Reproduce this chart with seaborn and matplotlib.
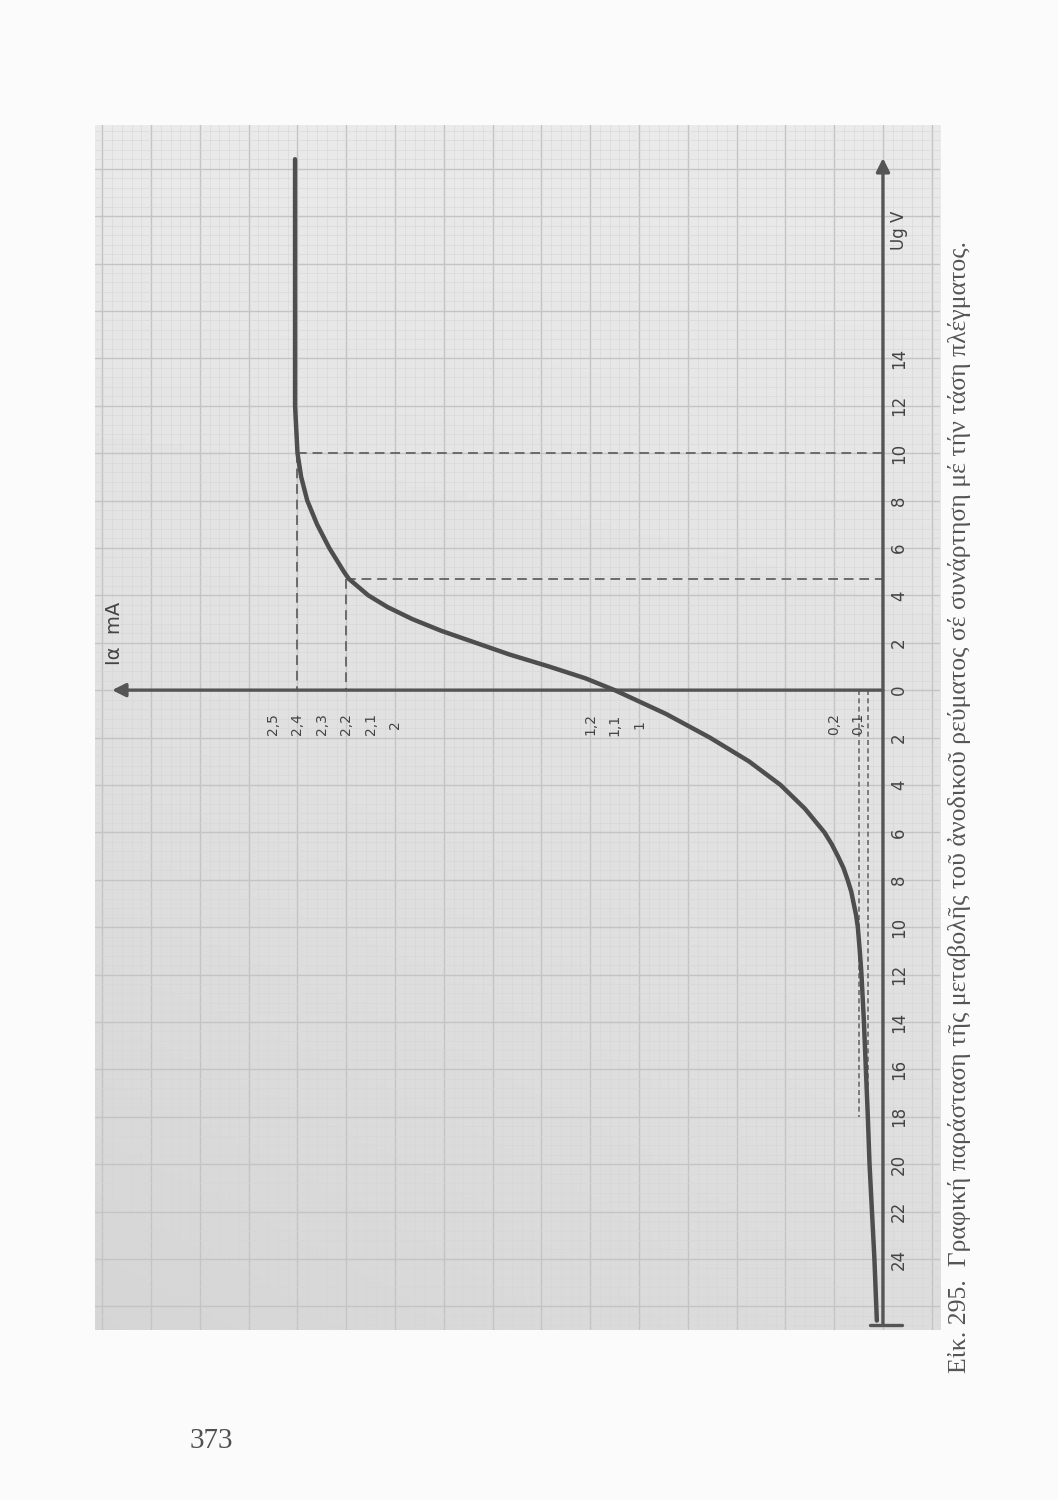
import numpy as np
import pandas as pd
import matplotlib
matplotlib.use("Agg")
import matplotlib.pyplot as plt
import seaborn as sns
from matplotlib.ticker import MultipleLocator

# grid voltage (V) and anode current (mA)
ug_values = [-26.6, -24, -22, -20, -18, -16, -14, -12, -11, -10, -9.5, -9, -8.5, -8,
             -7.5, -7, -6.5, -6, -5, -4, -3, -2, -1, 0, 0.5, 1, 1.5, 2, 2.5, 3,
             3.5, 4, 4.7, 5, 6, 7, 8, 9, 10, 12, 16, 22.4]
ia_values = [0.025, 0.035, 0.045, 0.055, 0.062, 0.07, 0.078, 0.088, 0.095, 0.103,
             0.11, 0.12, 0.13, 0.145, 0.162, 0.185, 0.21, 0.24, 0.32, 0.42, 0.55,
             0.71, 0.89, 1.10, 1.22, 1.37, 1.53, 1.67, 1.81, 1.93, 2.03, 2.11,
             2.19, 2.21, 2.27, 2.32, 2.36, 2.385, 2.40, 2.41, 2.41, 2.41]

ug_ticks = [-24, -22, -20, -18, -16, -14, -12, -10, -8, -6, -4, -2, 0,
            2, 4, 6, 8, 10, 12, 14]
ug_tick_labels = [str(abs(v)) for v in ug_ticks]

ia_ticks = [2.5, 2.4, 2.3, 2.2, 2.1, 2.0, 1.2, 1.1, 1.0, 0.2, 0.1]
ia_tick_labels = ["2,5", "2,4", "2,3", "2,2", "2,1", "2", "1,2", "1,1", "1", "0,2", "0,1"]

# marked working points (Ug, Ia) and cut-off guide currents
marked_points = [(10, 2.4), (4.7, 2.2)]
cutoff_currents = [0.1, 0.06]
cutoff_ug = -18

caption = ("Εἰκ. 295.  Γραφική παράσταση τῆς μεταβολῆς τοῦ ἀνοδικοῦ ρεύματος "
           "σέ συνάρτηση μέ τήν τάση πλέγματος.")
page_number = "373"

df = pd.DataFrame({"Ug": ug_values, "Ia": ia_values})

sns.set_theme(style="white")
plt.rcParams["font.family"] = ["DejaVu Sans"]

ink = "#555555"
fig = plt.figure(figsize=(10.58, 15), dpi=100)
fig.patch.set_facecolor("#fbfbfb")
ax = fig.add_axes([0.0898, 0.1133, 0.7987, 0.8033])

xlim = (3.23, -0.234)
ylim = (-27.0, 23.84)

# scanned graph-paper tone
yy, xx = np.mgrid[0:1:200j, 0:1:200j]
tone = 0.915 - 0.05 * yy - 0.03 * (1 - xx) * yy
ax.imshow(tone, extent=(xlim[0], xlim[1], ylim[0], ylim[1]), origin="upper",
          cmap="gray", vmin=0, vmax=1, aspect="auto", zorder=0)

ax.set_xlim(*xlim)
ax.set_ylim(*ylim)
ax.xaxis.set_major_locator(MultipleLocator(0.2))
ax.xaxis.set_minor_locator(MultipleLocator(0.04))
ax.yaxis.set_major_locator(MultipleLocator(2))
ax.yaxis.set_minor_locator(MultipleLocator(0.4))
ax.grid(which="major", color="#c4c4c4", lw=1.0, zorder=1)
ax.grid(which="minor", color="#d6d6d6", lw=0.4, zorder=1)
ax.tick_params(which="both", length=0, labelbottom=False, labelleft=False)
for s in ax.spines.values():
    s.set_visible(False)

# axes of the printed graph
ax.annotate("", xy=(3.16, 0), xytext=(0, 0),
            arrowprops=dict(arrowstyle="-|>", lw=2.4, color=ink, mutation_scale=20,
                            shrinkA=0, shrinkB=0), zorder=3)
ax.annotate("", xy=(0, 22.45), xytext=(0, -26.8),
            arrowprops=dict(arrowstyle="-|>", lw=2.4, color=ink, mutation_scale=20,
                            shrinkA=0, shrinkB=0), zorder=3)
ax.plot([0.053, -0.078], [-26.8, -26.8], color=ink, lw=2.4, zorder=3)

# dashed construction lines
for ug, ia in marked_points:
    ax.plot([ia, 0], [ug, ug], ls=(0, (5, 3)), color="#6a6a6a", lw=1.4, zorder=2)
    ax.plot([ia, ia], [ug, 0], ls=(0, (5, 3)), color="#6a6a6a", lw=1.4, zorder=2)
for ia in cutoff_currents:
    ax.plot([ia, ia], [0, cutoff_ug], ls=(0, (3, 2)), color="#6a6a6a", lw=1.2, zorder=2)

sns.lineplot(data=df, x="Ia", y="Ug", sort=False, estimator=None, color="#4e4e4e",
             lw=3.2, ax=ax, zorder=4)
ax.set_xlabel("")
ax.set_ylabel("")

for v, lab in zip(ug_ticks, ug_tick_labels):
    ax.text(-0.065, v, lab, rotation=90, ha="center", va="center",
            fontsize=12, color="#444444", zorder=5)
ax.text(-0.065, 19.4, "Ug V", rotation=90, ha="center", va="center",
        fontsize=12, color="#444444", zorder=5)

for v, lab in zip(ia_ticks, ia_tick_labels):
    ax.text(v, -1.45, lab, rotation=90, ha="center", va="center",
            fontsize=10, color="#444444", zorder=5)
ax.text(3.15, 2.4, "Iα  mA", rotation=90, ha="center", va="center",
        fontsize=14, color="#444444", zorder=5)

fig.text(0.907, 0.462, caption, rotation=90, ha="center", va="center",
         fontsize=18.5, color="#555555", family=["Liberation Serif", "DejaVu Serif"])
fig.text(0.200, 0.039, page_number, ha="center", va="center",
         fontsize=21, color="#505050", family=["Liberation Serif", "DejaVu Serif"])

fig.savefig("out.png", dpi=100, facecolor=fig.get_facecolor())
